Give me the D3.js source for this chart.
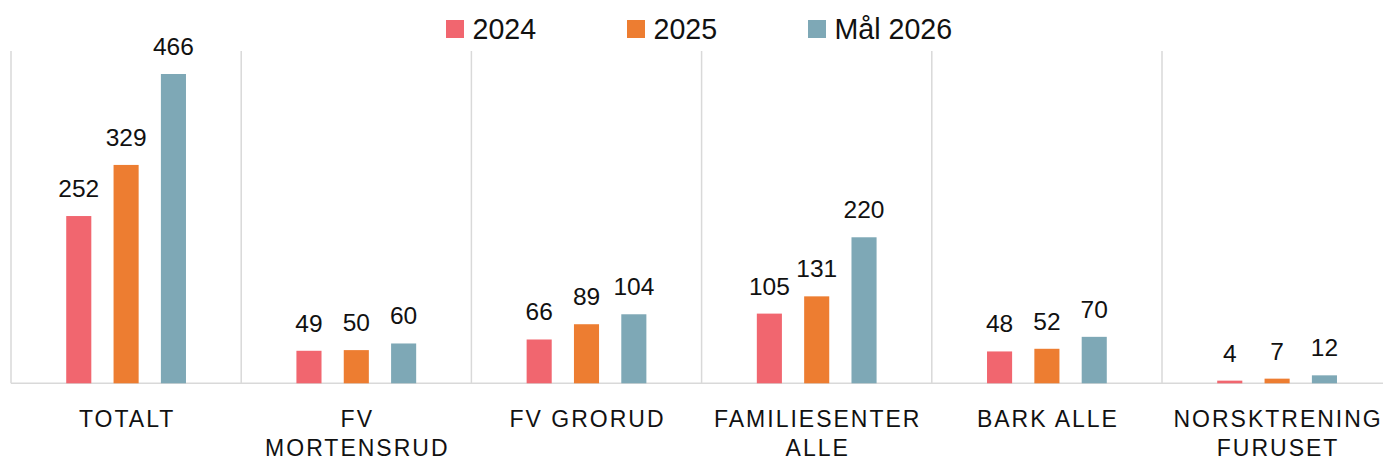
<!DOCTYPE html>
<html><head><meta charset="utf-8">
<script src="https://cdn.jsdelivr.net/npm/d3@7"></script>
<style>body{margin:0;background:#fff}svg{display:block}</style>
</head><body>
<svg id="c" width="1383" height="461"></svg>
<script>
const categories = [["TOTALT"],["FV","MORTENSRUD"],["FV GRORUD"],["FAMILIESENTER","ALLE"],["BARK ALLE"],["NORSKTRENING","FURUSET"]];
const seriesNames = ["2024","2025","Mål 2026"];
const values2024 = [252,49,66,105,48,4];
const values2025 = [329,50,89,131,52,7];
const valuesGoal2026 = [466,60,104,220,70,12];
const colors = ["#F1666F","#ED7D31","#7EA8B6"];
const seriesValues = [values2024, values2025, valuesGoal2026];

const svg = d3.select("#c");
const font = "Liberation Sans, Arial, sans-serif";
const baseY = 383.3;
const keys = categories.map((c,i)=>i);
const x0 = d3.scaleBand().domain(keys).range([11, 11+230.2*6]).padding(0);
const x1 = d3.scaleBand().domain(seriesNames).range([-71,71]).paddingInner(0.47).paddingOuter(0.235);
const y = d3.scaleLinear().domain([0,466]).range([baseY, 74]);

// vertical dividers
svg.append("g").selectAll("line").data(keys).join("line")
  .attr("x1", d=>x0(d)).attr("x2", d=>x0(d))
  .attr("y1", 51).attr("y2", baseY)
  .attr("stroke", "#d9d9d9").attr("stroke-width", 1.5);
// baseline
svg.append("line").attr("x1", 11).attr("x2", 1383).attr("y1", baseY).attr("y2", baseY)
  .attr("stroke", "#d9d9d9").attr("stroke-width", 1.5);

const groups = svg.append("g").selectAll("g").data(keys).join("g")
  .attr("transform", d=>`translate(${x0(d)+x0.bandwidth()/2},0)`);

seriesNames.forEach((s,si)=>{
  groups.append("rect")
    .attr("x", x1(s)).attr("width", x1.bandwidth())
    .attr("y", d=>y(seriesValues[si][d])).attr("height", d=>baseY - y(seriesValues[si][d]))
    .attr("fill", colors[si]);
  groups.append("text")
    .attr("x", x1(s)+x1.bandwidth()/2)
    .attr("y", d=>y(seriesValues[si][d]) - 19)
    .attr("text-anchor","middle")
    .attr("font-family", font).attr("font-size", 24.5).attr("fill","#111")
    .text(d=>seriesValues[si][d]);
});

// category labels
groups.each(function(d){
  const g = d3.select(this);
  categories[d].forEach((line,li)=>{
    g.append("text").attr("x", 1).attr("y", 426.5 + li*29.5)
      .attr("text-anchor","middle").attr("font-family", font)
      .attr("font-size", 23).attr("letter-spacing", 2).attr("fill","#111")
      .text(line);
  });
});

// legend
const legX = [446, 627, 808];
const leg = svg.append("g").selectAll("g").data(seriesNames).join("g")
  .attr("transform", (d,i)=>`translate(${legX[i]},20)`);
leg.append("rect").attr("width",18).attr("height",18).attr("fill",(d,i)=>colors[i]);
leg.append("text").attr("x", 26.5).attr("y", 18.5).attr("font-family", font)
  .attr("font-size", 28.6).attr("fill","#111").text(d=>d);
</script>
</body></html>
